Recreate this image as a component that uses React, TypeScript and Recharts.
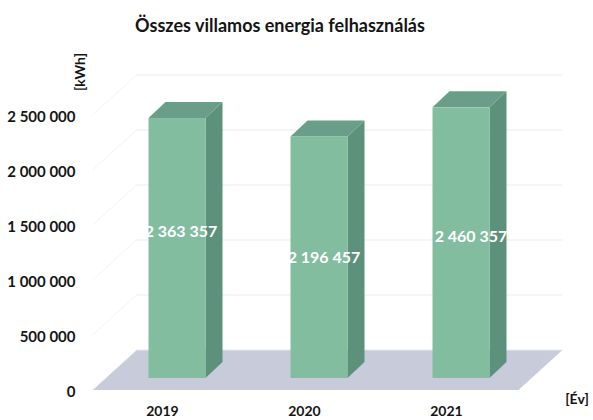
import React from 'react';
import { ComposedChart, Bar, XAxis, YAxis, ReferenceLine, LabelList } from 'recharts';

const years = ['2019', '2020', '2021'];
const consumption = [2363357, 2196457, 2460357];
const valueLabels = ['2 363 357', '2 196 457', '2 460 357'];
const yTicks = [0, 500000, 1000000, 1500000, 2000000, 2500000];
const yTickLabels = ['0', '500 000', '1 000 000', '1 500 000', '2 000 000', '2 500 000'];

const rows = years.map((year, i) => ({ year, value: consumption[i], label: valueLabels[i] }));

const FONT = 'Lato, Carlito, sans-serif';
const BAR_DX = 17;
const BAR_DY = 16;
const WALL_DX = 31;
const WALL_DY = 28;
const FLOOR_DX = 13;
const FLOOR_DY = 12;
const labelNudge = [
  [4, -16],
  [5, 1],
  [10, -6],
];

const Bar3D = (props: any) => {
  const { x, y, width, height } = props;
  const r = x + width;
  const b = y + height;
  return (
    <g>
      <polygon points={`${r},${y} ${r + BAR_DX},${y - BAR_DY} ${r + BAR_DX},${b - BAR_DY} ${r},${b}`} fill="#5C927B" />
      <polygon points={`${x},${y} ${x + BAR_DX},${y - BAR_DY} ${r + BAR_DX},${y - BAR_DY} ${r},${y}`} fill="#6B9E88" />
      <rect x={x} y={y} width={width} height={height} fill="#83BDA0" />
    </g>
  );
};

const GridShape = (props: any) => {
  const { x1, y1, x2 } = props;
  const bl = x1 + WALL_DX;
  const br = x2 + WALL_DX;
  const by = y1 - WALL_DY;
  return (
    <g fill="none">
      <line x1={x1 - FLOOR_DX} y1={y1 + FLOOR_DY} x2={bl} y2={by} stroke="#F3F3F6" strokeWidth={1} />
      <line x1={bl} y1={by} x2={br} y2={by} stroke="#E9E9F3" strokeWidth={1} />
    </g>
  );
};

const FloorShape = (props: any) => {
  const { x1, y1, x2 } = props;
  const points = [
    [x1 + WALL_DX, y1 - WALL_DY],
    [x2 + WALL_DX, y1 - WALL_DY],
    [x2 - FLOOR_DX, y1 + FLOOR_DY],
    [x1 - FLOOR_DX, y1 + FLOOR_DY],
  ]
    .map((p) => p.join(','))
    .join(' ');
  return <polygon points={points} fill="#C8CBDA" />;
};

const YTick = (props: any) => {
  const { x, y, index } = props;
  return (
    <text x={x - 24} y={y + 19} textAnchor="end" fontFamily={FONT} fontWeight={700} fontSize={15} fill="#151515">
      {yTickLabels[index]}
    </text>
  );
};

const XTick = (props: any) => {
  const { x, y, payload } = props;
  return (
    <text x={x - 14} y={y + 30} textAnchor="middle" fontFamily={FONT} fontWeight={700} fontSize={14} fill="#151515">
      {payload.value}
    </text>
  );
};

const ValueLabel = (props: any) => {
  const { x, y, width, height, index } = props;
  const [dx, dy] = labelNudge[index];
  return (
    <text
      x={x + width / 2 + dx}
      y={y + height / 2 + dy + 5}
      textAnchor="middle"
      fontFamily={FONT}
      fontWeight={700}
      fontSize={16}
      fill="#FFFFFF"
    >
      {valueLabels[index]}
    </text>
  );
};

export default function App() {
  return (
    <div style={{ position: 'absolute', left: 0, top: 0, width: 593, height: 420, background: '#fff' }}>
      <ComposedChart
        width={593}
        height={420}
        data={rows}
        margin={{ top: 103, right: 61.5, bottom: 0, left: 20.5 }}
        barSize={57}
      >
        <XAxis dataKey="year" axisLine={false} tickLine={false} tick={<XTick />} height={42} interval={0} />
        <YAxis
          width={85}
          domain={[0, 2500000]}
          ticks={yTicks}
          axisLine={false}
          tickLine={false}
          tick={<YTick />}
          tickMargin={0}
          interval={0}
        />
        <ReferenceLine y={0} shape={<FloorShape />} ifOverflow="visible" zIndex={100} />
        {yTicks.map((t) => (
          <ReferenceLine key={t} y={t} shape={<GridShape />} ifOverflow="visible" zIndex={100} />
        ))}
        <Bar dataKey="value" shape={<Bar3D />} isAnimationActive={false}>
          <LabelList dataKey="label" content={<ValueLabel />} />
        </Bar>
        <text x={280} y={32} textAnchor="middle" fontFamily={FONT} fontWeight={700} fontSize={18} fill="#151515">
          Összes villamos energia felhasználás
        </text>
        <text
          x={0}
          y={0}
          transform="translate(85 72) rotate(-90)"
          textAnchor="middle"
          fontFamily={FONT}
          fontWeight={700}
          fontSize={14}
          fill="#151515"
        >
          [kWh]
        </text>
        <text x={577} y={404} textAnchor="middle" fontFamily={FONT} fontWeight={700} fontSize={14} fill="#151515">
          [Év]
        </text>
      </ComposedChart>
    </div>
  );
}
